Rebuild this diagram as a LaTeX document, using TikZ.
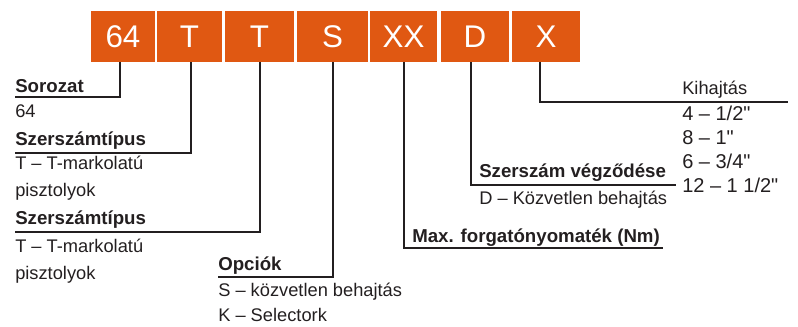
\documentclass[tikz,border=0pt]{standalone}
\usepackage{fontspec}
\setmainfont{Liberation Sans}[Ligatures=TeXOff]
\usepackage{xcolor}
\definecolor{codeorange}{RGB}{224,88,18}
\definecolor{inkgray}{RGB}{35,31,32}

\begin{document}
\begin{tikzpicture}[x=0.75pt, y=-0.75pt,
    codebox/.style={fill=codeorange, text=white, inner sep=0pt, minimum height=38.25pt,
      text height=16.8pt, text depth=0pt, font=\fontsize{23.5}{28}\selectfont},
    leader/.style={line width=1.5pt, draw=inkgray},
    lbl/.style={anchor=base west, inner sep=0pt, text=inkgray, font=\fontsize{13.7}{16}\selectfont},
    hdr/.style={lbl, font=\fontsize{14}{16}\selectfont\bfseries},
    sizelbl/.style={lbl, font=\fontsize{15}{18}\selectfont}]
    \useasboundingbox (0,0) rectangle (798,326) ;
    \node[codebox, minimum width=48pt] at (123,36.5) (B64) {64} ;
    \node[codebox, minimum width=48.75pt] at (189.5,36.5) (BT1) {T} ;
    \node[codebox, minimum width=51.75pt] at (259.5,36.5) (BT2) {T} ;
    \node[codebox, minimum width=53.25pt] at (332.5,36.5) (BS) {S} ;
    \node[codebox, minimum width=50.25pt] at (403.5,36.5) (BXX) {XX} ;
    \node[codebox, minimum width=51pt] at (475,36.5) (BD) {D} ;
    \node[codebox, minimum width=51pt] at (546,36.5) (BX) {X} ;
    \node[hdr] at (15,92) (sorozat) {Sorozat} ;
    \node[lbl] at (15,117) (sorozatval) {64} ;
    \node[hdr] at (15,145) (tipusA) {Szerszámtípus} ;
    \node[lbl] at (15,169) (tipusAval) {T – T-markolatú} ;
    \node[lbl] at (15,196) (tipusAtxt) {pisztolyok} ;
    \node[hdr] at (15,224) (tipusB) {Szerszámtípus} ;
    \node[lbl] at (15,252) (tipusBval) {T – T-markolatú} ;
    \node[lbl] at (15,279) (tipusBtxt) {pisztolyok} ;
    \node[hdr] at (218,270) (opciok) {Opciók} ;
    \node[lbl] at (218,296) (opciokS) {S – közvetlen behajtás} ;
    \node[lbl] at (218,321) (opciokK) {K – Selectork} ;
    \node[hdr] at (412,242) (nyomatek) {Max. forgatónyomaték (Nm)} ;
    \node[hdr] at (479,177) (vegzodes) {Szerszám végződése} ;
    \node[lbl] at (479,204) (vegzodesD) {D – Közvetlen behajtás} ;
    \node[lbl] at (682,94) (kihajtas) {Kihajtás} ;
    \node[sizelbl] at (682,120) (kiA) {4 – 1/2"} ;
    \node[sizelbl] at (682,144) (kiB) {8 – 1"} ;
    \node[sizelbl] at (682,168) (kiC) {6 – 3/4"} ;
    \node[sizelbl] at (682,192) (kiD) {12 – 1 1/2"} ;
    \coordinate (sorozatL) at (15,97) ;
    \coordinate (tipusAL) at (15,153) ;
    \coordinate (tipusBL) at (15,232) ;
    \coordinate (opciokL) at (218,277) ;
    \coordinate (nyomatekR) at (663,248) ;
    \coordinate (vegzodesR) at (676,185) ;
    \coordinate (kihajtasR) at (788,102) ;
    \draw[leader] ([xshift=-2.25pt]B64.south) |- (sorozatL) ;
    \draw[leader] ([xshift=1.1pt]BT1.south) |- (tipusAL) ;
    \draw[leader] (BT2.south) |- (tipusBL) ;
    \draw[leader] (BS.south) |- (opciokL) ;
    \draw[leader] (BXX.south) |- (nyomatekR) ;
    \draw[leader] ([xshift=-3pt]BD.south) |- (vegzodesR) ;
    \draw[leader] ([xshift=-4.5pt]BX.south) |- (kihajtasR) ;
  \end{tikzpicture}
\end{document}
